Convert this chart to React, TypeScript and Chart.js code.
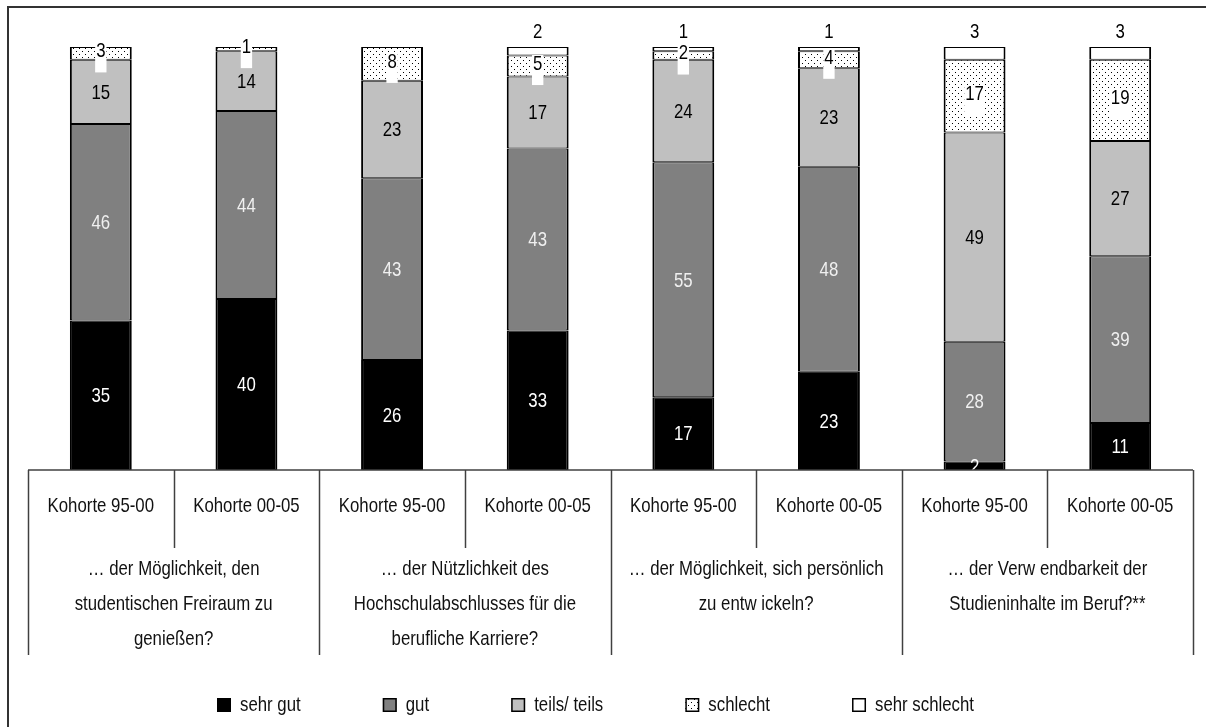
import React, { useEffect, useRef } from "react";
import { Chart, registerables } from "chart.js";

Chart.register(...registerables);

const categories = [
  "Kohorte 95-00", "Kohorte 00-05",
  "Kohorte 95-00", "Kohorte 00-05",
  "Kohorte 95-00", "Kohorte 00-05",
  "Kohorte 95-00", "Kohorte 00-05",
];

const groupLabels = [
  ["… der Möglichkeit, den", "studentischen Freiraum zu", "genießen?"],
  ["… der Nützlichkeit des", "Hochschulabschlusses für die", "berufliche Karriere?"],
  ["… der Möglichkeit, sich persönlich", "zu entw ickeln?"],
  ["… der Verw endbarkeit der", "Studieninhalte im Beruf?**"],
];

const seriesNames = ["sehr gut", "gut", "teils/ teils", "schlecht", "sehr schlecht"];

const sehrGut = [35, 40, 26, 33, 17, 23, 2, 11];
const gut = [46, 44, 43, 43, 55, 48, 28, 39];
const teils = [15, 14, 23, 17, 24, 23, 49, 27];
const schlecht = [3, 1, 8, 5, 2, 4, 17, 19];
const sehrSchlecht = [0, 0, 0, 2, 1, 1, 3, 3];

const FONT = '21px "Liberation Sans", Arial, sans-serif';
const NARROW = 0.8;

function makeDots(): CanvasPattern | string {
  const c = document.createElement("canvas");
  c.width = 6;
  c.height = 6;
  const g = c.getContext("2d");
  if (!g) return "#fff";
  g.fillStyle = "#fff";
  g.fillRect(0, 0, 6, 6);
  g.fillStyle = "#000";
  g.fillRect(1, 1, 1, 1);
  g.fillRect(4, 4, 1, 1);
  return g.createPattern(c, "repeat") || "#fff";
}

function textW(ctx: CanvasRenderingContext2D, s: string) {
  return ctx.measureText(s).width * NARROW;
}

function drawText(ctx: CanvasRenderingContext2D, s: string, x: number, y: number) {
  ctx.save();
  ctx.translate(x, y);
  ctx.scale(NARROW, 1);
  ctx.fillText(s, 0, 0);
  ctx.restore();
}

export default function App() {
  const ref = useRef<HTMLCanvasElement | null>(null);

  useEffect(() => {
    if (!ref.current) return;
    const raw = [sehrGut, gut, teils, schlecht, sehrSchlecht];
    const totals = categories.map((_, i) => raw.reduce((s, arr) => s + arr[i], 0));
    const shares = raw.map((arr) => arr.map((v, i) => (v / totals[i]) * 100));
    const dots = makeDots();
    const fills: any[] = ["#000000", "#808080", "#c0c0c0", dots, "#ffffff"];
    const labelColors = ["#ffffff", "#f0f0f0", "#000000", "#000000", "#000000"];

    const labelsPlugin = {
      id: "segLabels",
      afterDatasetsDraw(chart: any) {
        const ctx = chart.ctx;
        ctx.save();
        ctx.font = FONT;
        ctx.textAlign = "center";
        ctx.textBaseline = "middle";
        raw.forEach((arr, d) => {
          const meta = chart.getDatasetMeta(d);
          meta.data.forEach((el: any, i: number) => {
            const v = arr[i];
            if (!v) return;
            const txt = String(v);
            let y = (el.y + el.base) / 2;
            if (d === 3) {
              y -= 3;
              const w = textW(ctx, txt);
              ctx.fillStyle = "#ffffff";
              ctx.fillRect(el.x - w / 2 - 1, y - 8, w + 2, 30);
            } else if (d === 4) {
              y = el.y - 16;
            }
            ctx.fillStyle = labelColors[d];
            drawText(ctx, txt, el.x, y + 1);
          });
        });
        ctx.restore();
      },
    };

    const tablePlugin = {
      id: "catTable",
      afterDraw(chart: any) {
        const ctx = chart.ctx;
        const area = chart.chartArea;
        const n = categories.length;
        const cw = (area.right - area.left) / n;
        const base = area.bottom;
        ctx.save();
        ctx.strokeStyle = "#404040";
        ctx.lineWidth = 1.5;
        ctx.beginPath();
        ctx.moveTo(area.left, base);
        ctx.lineTo(area.right, base);
        ctx.stroke();
        for (let k = 0; k <= n; k++) {
          const x = Math.round(area.left + k * cw) + 0.5;
          ctx.beginPath();
          ctx.moveTo(x, base);
          ctx.lineTo(x, k % 2 === 0 ? base + 185 : base + 78);
          ctx.stroke();
        }
        ctx.fillStyle = "#111";
        ctx.font = FONT;
        ctx.textAlign = "center";
        ctx.textBaseline = "middle";
        categories.forEach((c, i) => {
          drawText(ctx, c, area.left + (i + 0.5) * cw, base + 36);
        });
        groupLabels.forEach((lines, g) => {
          const cx = area.left + (2 * g + 1) * cw;
          lines.forEach((ln, j) => {
            drawText(ctx, ln, cx, base + 99 + j * 35);
          });
        });

        // legend
        const lx0 = 208;
        const lx1 = 965;
        const ly = 697;
        const box = 14;
        const gapTxt = 9;
        ctx.textAlign = "left";
        const widths = seriesNames.map((s) => box + gapTxt + textW(ctx, s));
        const sum = widths.reduce((a, b) => a + b, 0);
        const gap = (lx1 - lx0 - sum) / (seriesNames.length - 1);
        let x = lx0;
        seriesNames.forEach((s, d) => {
          ctx.fillStyle = fills[d];
          ctx.fillRect(x, ly - box / 2, box, box);
          ctx.strokeStyle = "#000";
          ctx.lineWidth = 1.5;
          ctx.strokeRect(x + 0.75, ly - box / 2 + 0.75, box - 1.5, box - 1.5);
          ctx.fillStyle = "#111";
          drawText(ctx, s, x + box + gapTxt, ly);
          x += widths[d] + gap;
        });
        ctx.restore();
      },
    };

    const chart = new Chart(ref.current, {
      type: "bar",
      data: {
        labels: categories,
        datasets: shares.map((data, d) => ({
          label: seriesNames[d],
          data,
          backgroundColor: fills[d],
          borderColor: "#000000",
          borderWidth: { top: 1, bottom: 1, left: 2, right: 2 },
          borderSkipped: false,
          barPercentage: 0.425,
          categoryPercentage: 1,
        })),
      },
      options: {
        responsive: false,
        animation: false,
        events: [],
        layout: { padding: { left: 19, right: 13, top: 39, bottom: 257 } },
        plugins: {
          legend: { display: false },
          tooltip: { enabled: false },
        },
        scales: {
          x: { stacked: true, display: false, offset: true },
          y: { stacked: true, display: false, min: 0, max: 100 },
        },
      },
      plugins: [labelsPlugin, tablePlugin],
    } as any);

    return () => chart.destroy();
  }, []);

  return (
    <div
      style={{
        position: "fixed",
        left: 7,
        top: 6,
        width: 1199,
        height: 721,
        borderLeft: "2px solid #333",
        borderTop: "2px solid #333",
        boxSizing: "border-box",
        background: "#fff",
      }}
    >
      <canvas ref={ref} width={1197} height={719} style={{ display: "block" }} />
    </div>
  );
}
